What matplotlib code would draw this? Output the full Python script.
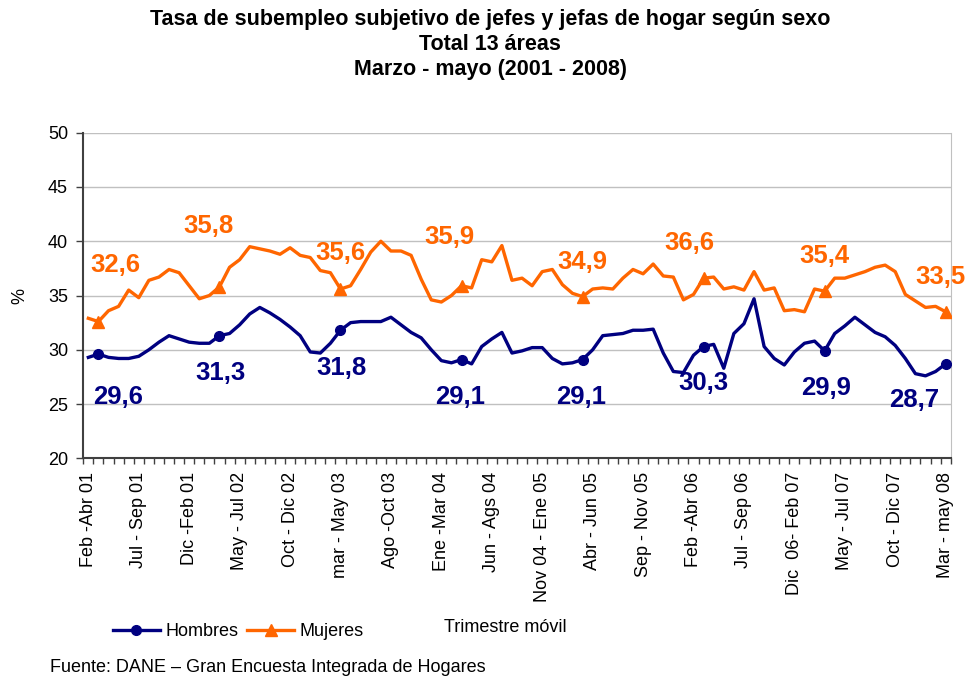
import numpy as np
import matplotlib
matplotlib.use("Agg")
import matplotlib.pyplot as plt
from matplotlib.ticker import FixedLocator, MultipleLocator

plt.rcParams['font.family'] = ['Liberation Sans', 'DejaVu Sans']

# rolling quarters Feb-Abr 01 ... Mar-may 08 (86 points)
tick_labels = [
    "Feb -Abr 01", "Jul - Sep 01", "Dic -Feb 01", "May - Jul 02", "Oct - Dic 02",
    "mar - May 03", "Ago -Oct 03", "Ene -Mar 04", "Jun - Ags 04", "Nov 04 - Ene 05",
    "Abr - Jun 05", "Sep - Nov 05", "Feb -Abr 06", "Jul - Sep 06", "Dic  06- Feb 07",
    "May - Jul 07", "Oct - Dic 07", "Mar - may 08",
]

hombres = [
    29.3, 29.6, 29.3, 29.2, 29.2, 29.4, 30.0, 30.7, 31.3, 31.0,
    30.7, 30.6, 30.6, 31.3, 31.5, 32.3, 33.3, 33.9, 33.4, 32.8,
    32.1, 31.3, 29.8, 29.7, 30.6, 31.8, 32.5, 32.6, 32.6, 32.6,
    33.0, 32.3, 31.6, 31.1, 30.0, 29.0, 28.8, 29.1, 28.7, 30.3,
    31.0, 31.6, 29.7, 29.9, 30.2, 30.2, 29.2, 28.7, 28.8, 29.1,
    30.0, 31.3, 31.4, 31.5, 31.8, 31.8, 31.9, 29.7, 28.0, 27.9,
    29.5, 30.3, 30.5, 28.3, 31.5, 32.4, 34.7, 30.3, 29.2, 28.6,
    29.8, 30.6, 30.8, 29.9, 31.5, 32.2, 33.0, 32.3, 31.6, 31.2,
    30.4, 29.2, 27.8, 27.6, 28.0, 28.7,
]

mujeres = [
    32.9, 32.6, 33.6, 34.0, 35.5, 34.8, 36.4, 36.7, 37.4, 37.1,
    35.9, 34.7, 35.0, 35.8, 37.6, 38.3, 39.5, 39.3, 39.1, 38.8,
    39.4, 38.7, 38.5, 37.3, 37.1, 35.6, 35.9, 37.4, 39.0, 40.0,
    39.1, 39.1, 38.7, 36.5, 34.6, 34.4, 35.0, 35.9, 35.7, 38.3,
    38.1, 39.6, 36.4, 36.6, 35.9, 37.2, 37.4, 36.0, 35.2, 34.9,
    35.6, 35.7, 35.6, 36.6, 37.4, 37.0, 37.9, 36.8, 36.7, 34.6,
    35.1, 36.6, 36.7, 35.6, 35.8, 35.5, 37.2, 35.5, 35.7, 33.6,
    33.7, 33.5, 35.6, 35.4, 36.6, 36.6, 36.9, 37.2, 37.6, 37.8,
    37.2, 35.1, 34.5, 33.9, 34.0, 33.5,
]

# March-May of each year gets a marker and a value label
marked = list(range(1, 86, 12))

navy = "#000080"
orange = "#FF6600"

fig = plt.figure(figsize=(9.72, 6.76), dpi=100)
ax = fig.add_axes([0.0857, 0.3220, 0.8924, 0.4817])

x = np.arange(len(hombres))
ax.plot(x, hombres, color=navy, lw=2.4, marker='o', ms=7,
        markevery=marked, solid_joinstyle='round', label="Hombres", zorder=3)
ax.plot(x, mujeres, color=orange, lw=2.4, marker='^', ms=8.5,
        markevery=marked, solid_joinstyle='round', label="Mujeres", zorder=3)

# value labels (offsets in points)
h_off = [(14, -31), (1, -27), (1, -27), (-1, -27), (-1, -27), (0, -26), (1, -27), (-23, -26)]
m_off = [(12, 41), (-8, 44), (0, 26), (-9, 35), (0, 25), (-10, 25), (0, 25), (-4, 25)]
for i, off in zip(marked, h_off):
    ax.annotate(f"{hombres[i]:.1f}".replace('.', ','), (i, hombres[i]),
                xytext=off, textcoords='offset points', ha='center', va='center',
                fontsize=18.5, fontweight='bold', color=navy, annotation_clip=False)
for i, off in zip(marked, m_off):
    ax.annotate(f"{mujeres[i]:.1f}".replace('.', ','), (i, mujeres[i]),
                xytext=off, textcoords='offset points', ha='center', va='center',
                fontsize=18.5, fontweight='bold', color=orange, annotation_clip=False)

ax.set_xlim(-0.5, len(hombres) - 0.5)
ax.set_ylim(20, 50)
ax.yaxis.set_major_locator(MultipleLocator(5))
ax.grid(axis='y', color='#C0C0C0', lw=1)
ax.set_axisbelow(True)

ax.set_xticks(np.arange(0, len(hombres), 5))
ax.set_xticklabels(tick_labels, rotation=90, fontsize=13)
ax.xaxis.set_minor_locator(FixedLocator(np.arange(-0.5, len(hombres), 1)))
ax.tick_params(axis='x', which='major', length=0, pad=10)
ax.tick_params(axis='x', which='minor', length=4, width=1, color='#404040', direction='out')
ax.tick_params(axis='y', length=5, width=1, color='#404040', labelsize=13, pad=6)

for s in ['left', 'bottom']:
    ax.spines[s].set_color('#404040')
    ax.spines[s].set_linewidth(1.5)
ax.spines['right'].set_color('#C0C0C0')
ax.spines['top'].set_visible(False)

ax.set_ylabel("%", fontsize=13, labelpad=14)

fig.legend(loc='center left', bbox_to_anchor=(113 / 972, 1 - 632 / 676), ncol=2,
           frameon=False, fontsize=13, handlelength=2.6, handletextpad=0.3,
           columnspacing=0.5, borderpad=0, borderaxespad=0)

fig.text(505 / 972, 1 - 628 / 676, "Trimestre móvil", ha='center', va='center', fontsize=13)
fig.text(50 / 972, 1 - 667 / 676, "Fuente: DANE – Gran Encuesta Integrada de Hogares",
         ha='left', va='center', fontsize=13)

titles = ["Tasa de subempleo subjetivo de jefes y jefas de hogar según sexo",
          "Total 13 áreas", "Marzo - mayo (2001 - 2008)"]
for k, t in enumerate(titles):
    fig.text(490 / 972, 1 - (20 + 24.5 * k) / 676, t, ha='center', va='center',
             fontsize=15.5, fontweight='bold')

fig.savefig("out.png", dpi=100)
